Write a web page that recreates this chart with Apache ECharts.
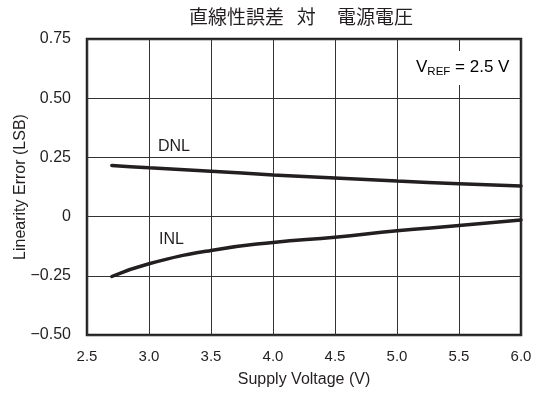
<!DOCTYPE html>
<html>
<head>
<meta charset="utf-8">
<script src="https://cdn.jsdelivr.net/npm/echarts@6/dist/echarts.min.js"></script>
<style>html,body{margin:0;padding:0;background:#fff;}#c{width:551px;height:396px;}</style>
</head>
<body>
<div id="c"></div>
<script>
const titleText = '直線性誤差   対     電源電圧';
const xName = 'Supply Voltage (V)';
const yName = 'Linearity Error (LSB)';
const voltage = [2.7, 3.0, 3.5, 4.0, 4.5, 5.0, 5.5, 6.0];
const dnl = [0.216, 0.206, 0.192, 0.176, 0.163, 0.150, 0.139, 0.129];
const inl = [-0.253, -0.199, -0.143, -0.109, -0.087, -0.060, -0.038, -0.014];
const yTickLabels = {'0.75':'0.75','0.5':'0.50','0.25':'0.25','0':'0','-0.25':'\u22120.25','-0.5':'\u22120.50'};

const chart = echarts.init(document.getElementById('c'), null, {renderer:'canvas'});
const font = 'Liberation Sans, Arial, sans-serif';
const ink = '#231f20';
chart.setOption({
  animation:false,
  backgroundColor:'#fff',
  title:{text:titleText,left:184,textAlign:'left',top:2,
    textStyle:{fontFamily:'Noto Sans CJK JP',fontWeight:'normal',fontSize:19,color:ink}},
  grid:{left:87,right:30,top:39,bottom:61,show:true,borderColor:ink,borderWidth:2.5,backgroundColor:'transparent',
    outerBoundsMode:'none',containLabel:false},
  xAxis:{type:'value',min:2.5,max:6.0,interval:0.5,
    name:xName,nameLocation:'middle',nameGap:37,nameMoveOverlap:false,
    nameTextStyle:{fontFamily:font,fontSize:16,color:ink},
    axisLine:{show:false},axisTick:{show:false},
    axisLabel:{margin:14,fontFamily:font,fontSize:15,color:ink,formatter:v=>v.toFixed(1)},
    splitLine:{show:true,lineStyle:{color:'#333',width:1}}},
  yAxis:{type:'value',min:-0.5,max:0.75,interval:0.25,
    name:yName,nameLocation:'middle',nameGap:58,nameRotate:90,nameMoveOverlap:false,
    nameTextStyle:{fontFamily:font,fontSize:16,color:ink},
    axisLine:{show:false},axisTick:{show:false},
    axisLabel:{margin:16,fontFamily:font,fontSize:16,color:ink,formatter:v=>yTickLabels[String(+v.toFixed(2))]||String(v)},
    splitLine:{show:true,lineStyle:{color:'#333',width:1}}},
  series:[
    {name:'DNL',type:'line',smooth:true,symbol:'none',data:voltage.map((v,i)=>[v,dnl[i]]),
      lineStyle:{color:ink,width:3.5,cap:'round'}},
    {name:'INL',type:'line',smooth:true,symbol:'none',data:voltage.map((v,i)=>[v,inl[i]]),
      lineStyle:{color:ink,width:3.5,cap:'round'}}
  ],
  graphic:[
    {type:'text',left:158,top:139,style:{text:'DNL',font:'16px '+font,fill:ink}},
    {type:'text',left:159,top:232,style:{text:'INL',font:'16px '+font,fill:ink}},
    {type:'text',left:413,top:51,z:10,style:{
      text:'{v|V}{s|REF}{v| = 2.5 V}',
      backgroundColor:'#fff',padding:[5,3,7,3],
      rich:{v:{fontFamily:font,fontSize:17,color:ink},
            s:{fontFamily:font,fontSize:11.5,color:ink,verticalAlign:'bottom',padding:[10,0,0,0]}}}}
  ]
});
</script>
</body>
</html>
